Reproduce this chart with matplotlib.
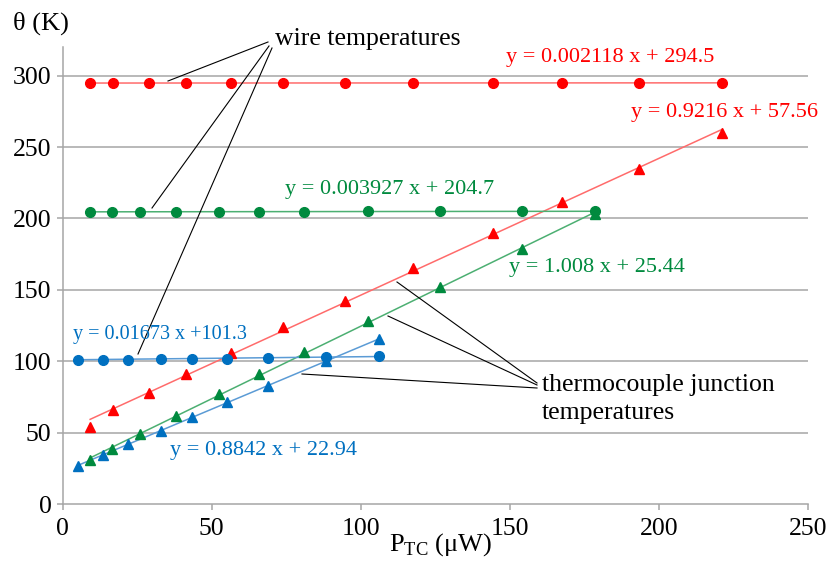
import matplotlib.pyplot as plt
import numpy as np

plt.rcParams['font.family'] = ['Liberation Serif', 'DejaVu Serif']
plt.rcParams['mathtext.fontset'] = 'custom'
plt.rcParams['mathtext.rm'] = 'Liberation Serif'

# red series (wire + thermocouple junction)
red_x = [9.2, 16.8, 28.8, 41.3, 56.3, 73.9, 94.7, 117.6, 144.3, 167.4, 193.3, 221.2]
red_wire = [294.8, 294.8, 294.8, 294.8, 294.8, 294.8, 294.8, 294.9, 294.9, 294.9, 294.9, 294.9]
red_tc = [54.4, 66.1, 78.2, 91.3, 105.8, 123.8, 142.5, 165.0, 190.0, 211.4, 234.8, 259.6]

# green series
green_x = [9.2, 16.5, 26.0, 37.9, 52.5, 65.7, 80.8, 102.4, 126.6, 154.1, 178.6]
green_wire = [204.7, 204.7, 204.7, 204.7, 204.7, 204.7, 204.7, 205.0, 205.0, 205.0, 205.0]
green_tc = [31.1, 38.8, 49.1, 61.9, 77.1, 91.1, 106.3, 128.0, 152.1, 178.9, 203.3]

# blue series
blue_x = [5.0, 13.4, 22.0, 33.0, 43.3, 55.2, 68.9, 88.3, 106.0]
blue_wire = [101.3, 101.3, 101.3, 102.0, 102.0, 102.0, 102.7, 102.9, 103.5]
blue_tc = [26.8, 34.6, 42.0, 51.6, 61.0, 71.5, 83.1, 100.0, 115.6]

red = '#ff0000'
green = '#008a3e'
blue = '#0070c0'

fig = plt.figure(figsize=(8.29, 5.63), dpi=100)
ax = fig.add_axes([0.0756, 0.1043, 0.8994, 0.8122])


def series(x, y, color, lcolor, marker):
    ax.plot(x, y, marker, color=color, markersize=7, linestyle='none', zorder=4)
    k, b = np.polyfit(x, y, 1)
    xs = np.array([x[0], x[-1]])
    ax.plot(xs, k * xs + b, color=lcolor, linewidth=1.1, zorder=3)


series(red_x, red_wire, red, '#ff6b6b', 'o')
series(red_x, red_tc, red, '#ff6b6b', '^')
series(green_x, green_wire, green, '#4caf72', 'o')
series(green_x, green_tc, green, '#4caf72', '^')
series(blue_x, blue_wire, blue, '#5b9bd5', 'o')
series(blue_x, blue_tc, blue, '#5b9bd5', '^')

ax.set_xlim(0, 250)
ax.set_ylim(0, 320)
ax.set_xticks([0, 50, 100, 150, 200, 250])
ax.set_yticks([0, 50, 100, 150, 200, 250, 300])
for yv in [50, 100, 150, 200, 250, 300]:
    ax.axhline(yv, color='#a6a6a6', linewidth=1.1, zorder=1)
for s in ['top', 'right']:
    ax.spines[s].set_visible(False)
for s in ['left', 'bottom']:
    ax.spines[s].set_color('#a6a6a6')
    ax.spines[s].set_linewidth(1.1)
ax.tick_params(axis='both', colors='#a6a6a6', labelcolor='black', labelsize=18.5,
               length=4, width=1.1)
ax.tick_params(axis='x', pad=6)
ax.tick_params(axis='y', pad=4)

fig.text(0.016, 0.958, 'θ (K)', fontsize=19, ha='left', va='center')
fig.text(0.531, 0.032, r'P$_\mathrm{TC}$ (μW)', fontsize=19, ha='center', va='center')

# equations
eqs = [
    ('y = 0.002118 x + 294.5', 610, 58, red, 16),
    ('y = 0.9216 x + 57.56', 725, 112, red, 16),
    ('y = 0.003927 x + 204.7', 390, 190, green, 16),
    ('y = 1.008 x + 25.44', 597, 267, green, 16),
    ('y = 0.01673 x +101.3', 160, 335, blue, 14.5),
    ('y = 0.8842 x + 22.94', 264, 450, blue, 16),
]
for t, px, py, c, fs in eqs:
    fig.text(px / 829, 1 - py / 563, t, color=c, fontsize=fs, ha='center', va='center')

# annotation labels with leader lines (pixel coords)
fig.text(275 / 829, 1 - 39 / 563, 'wire temperatures', fontsize=18.5, ha='left', va='center')
fig.text(542 / 829, 1 - 399 / 563, 'thermocouple junction\ntemperatures', fontsize=18.5,
         ha='left', va='center', linespacing=1.3)

lines = [
    ((268, 42), (168, 81)),
    ((269, 46), (152, 208)),
    ((272, 48), (138, 354)),
    ((537, 383), (397, 282)),
    ((537, 385), (388, 316)),
    ((537, 388), (302, 374)),
]
for (x0, y0), (x1, y1) in lines:
    fig.add_artist(plt.Line2D([x0 / 829, x1 / 829], [1 - y0 / 563, 1 - y1 / 563],
                              color='black', linewidth=0.8, transform=fig.transFigure))

fig.savefig('out.png', dpi=100)
